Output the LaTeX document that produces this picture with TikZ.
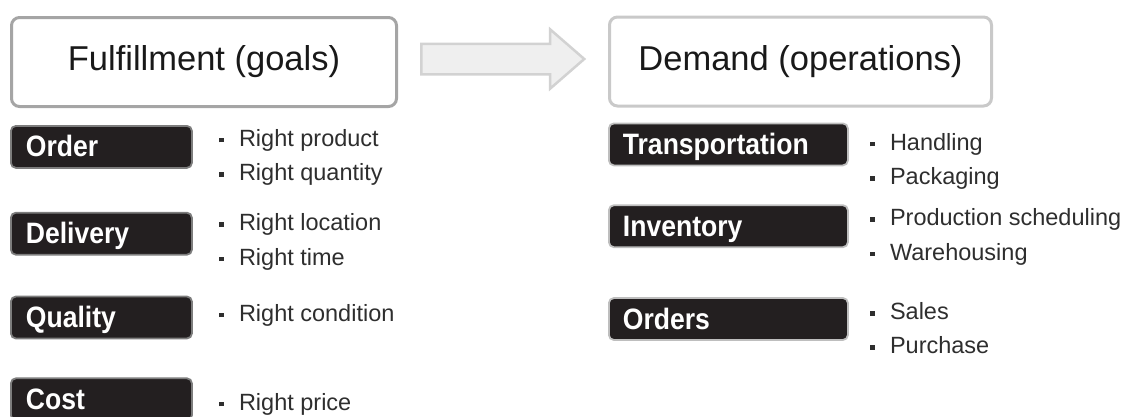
\documentclass[tikz,border=0pt]{standalone}
\usepackage{fontspec}
\setmainfont{Liberation Sans}
\newfontfamily\tagfont[FakeStretch=0.9]{Liberation Sans}
\usepackage{xcolor}
\usepackage{tikz}
\usetikzlibrary{positioning,shapes.arrows}
\definecolor{tagink}{HTML}{231F20}
\definecolor{headrimA}{HTML}{A5A5A5}
\definecolor{headrimB}{HTML}{C9C9C9}
\definecolor{tagrimA}{HTML}{7D7D7D}
\definecolor{tagrimB}{HTML}{BEBEBE}
\definecolor{flowfill}{HTML}{EFEFEF}
\definecolor{flowline}{HTML}{D2D2D2}
\definecolor{pointink}{HTML}{2E2E2E}
\newcommand{\pointdot}{\makebox[20pt][l]{\rule[4pt]{4.5pt}{4.5pt}}}

\begin{document}
\begin{tikzpicture}[
  x=1pt, y=1pt,
  head/.style={draw, line width=3pt, rounded corners=8pt, fill=white, minimum width=385pt, minimum height=89pt, inner sep=0pt, text=black!90, font=\fontsize{34.5}{40}\selectfont},
  tagL/.style={draw=tagrimA, line width=1.8pt, fill=tagink, rounded corners=5pt, text=white, align=left, text width=151pt, inner xsep=15pt, inner ysep=4pt, minimum height=42pt, text height=22pt, text depth=2pt, font=\tagfont\bfseries\fontsize{29.5}{32}\selectfont},
  tagR/.style={tagL, draw=tagrimB, text width=211pt, inner xsep=14pt},
  point/.style={inner sep=0pt, text height=17pt, text depth=5pt, text=pointink, font=\fontsize{23.5}{26}\selectfont}
]
\useasboundingbox (0,0) rectangle (1135,-416);

% the two headings and the flow arrow between them
\node[head, draw=headrimA] (fulfil) at (204,-62) {Fulfillment (goals)};
\node[single arrow, draw=flowline, fill=flowfill, line width=2.5pt, minimum height=163pt, minimum width=57pt,
  single arrow head extend=14.5pt, single arrow tip angle=82, inner ysep=14pt, text height=0pt, text depth=0pt,
  right=22pt of fulfil, yshift=3pt] (flow) {};
\node[head, draw=headrimB, minimum width=382pt] (demand) at (800.5,-61.5) {Demand (operations)};

% goals
\node[tagL, below=17pt of fulfil.south west, anchor=north west] (order) {Order};
\node[tagL, below=43pt of order] (delivery) {Delivery};
\node[tagL, below=40pt of delivery] (quality) {Quality};
\node[tagL, below=38pt of quality] (cost) {Cost};

\node[point, right=26pt of order, yshift=6.5pt] (order1) {\pointdot Right product};
\node[point, below=12pt of order1.south west, anchor=north west] (order2) {\pointdot Right quantity};
\node[point, right=26pt of delivery, yshift=9pt] (delivery1) {\pointdot Right location};
\node[point, below=12pt of delivery1.south west, anchor=north west] (delivery2) {\pointdot Right time};
\node[point, right=26pt of quality, yshift=2.5pt] (quality1) {\pointdot Right condition};
\node[point, right=26pt of cost, yshift=-5pt] (cost1) {\pointdot Right price};

% operations
\node[tagR, below=15pt of demand.south west, anchor=north west] (transport) {Transportation};
\node[tagR, below=38pt of transport] (inventory) {Inventory};
\node[tagR, below=49pt of inventory] (orders) {Orders};

\node[point, right=21pt of transport, yshift=0pt] (transport1) {\pointdot Handling};
\node[point, below=12pt of transport1.south west, anchor=north west] (transport2) {\pointdot Packaging};
\node[point, right=21pt of inventory, yshift=6.5pt] (inventory1) {\pointdot Production scheduling};
\node[point, below=12pt of inventory1.south west, anchor=north west] (inventory2) {\pointdot Warehousing};
\node[point, right=21pt of orders, yshift=5.5pt] (orders1) {\pointdot Sales};
\node[point, below=12pt of orders1.south west, anchor=north west] (orders2) {\pointdot Purchase};
\end{tikzpicture}
\end{document}
